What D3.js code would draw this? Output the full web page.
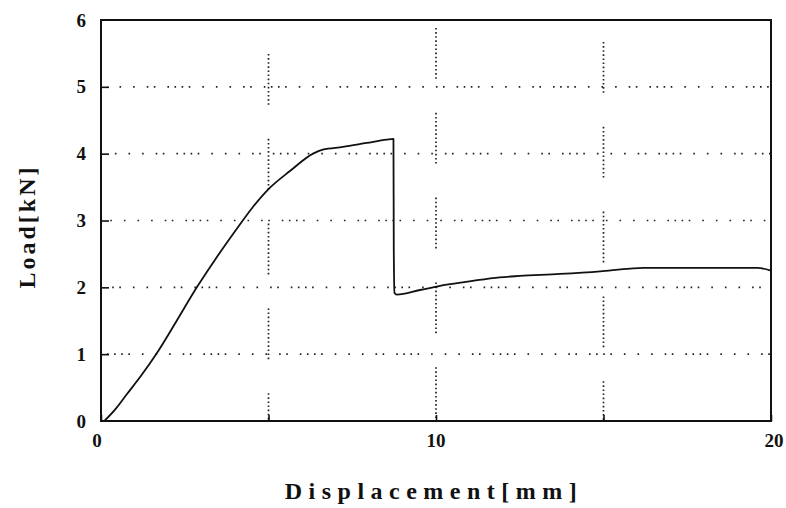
<!DOCTYPE html>
<html>
<head>
<meta charset="utf-8">
<script src="https://cdn.jsdelivr.net/npm/d3@7/dist/d3.min.js"></script>
<style>
  html, body { margin: 0; padding: 0; background: #fff; }
  svg { display: block; }
  text { font-family: "Liberation Serif", "Times New Roman", serif; font-weight: bold; fill: #111; }
</style>
</head>
<body>
<svg id="chart" width="786" height="508"></svg>
<script>
// Load–displacement curve of the test specimen
const displacement = [0.1, 0.45, 0.77, 1.2, 1.66, 2.26, 2.86, 3.4, 4.06, 4.5, 5.0, 5.64, 6.33, 6.62, 7.22, 7.93, 8.53, 8.73, 8.74, 8.76, 8.83, 9.52, 10.32, 11.0, 11.9, 12.5, 13.7, 14.9, 15.8, 16.2, 17.5, 19.6, 20.0];
const load         = [0.0, 0.19, 0.4, 0.68, 1.01, 1.5, 2.0, 2.41, 2.88, 3.18, 3.47, 3.74, 4.0, 4.06, 4.1, 4.16, 4.21, 4.22, 2.54, 1.92, 1.89, 1.96, 2.04, 2.09, 2.15, 2.17, 2.2, 2.24, 2.28, 2.29, 2.29, 2.29, 2.25];

const xTicks = [0, 10, 20];
const xGrid = [5, 10, 15];
const yTicks = [0, 1, 2, 3, 4, 5, 6];
const yGrid = [1, 2, 3, 4, 5];

const margin = { left: 101, right: 15, top: 20, bottom: 87 };
const W = 786, H = 508;
const svg = d3.select("#chart");

const x = d3.scaleLinear().domain([0, 20]).range([margin.left, W - margin.right]);
const y = d3.scaleLinear().domain([0, 6]).range([H - margin.bottom, margin.top]);

const x0 = x(0), x1 = x(20), y0 = y(0), y1 = y(6);

// Horizontal dotted grid lines (irregular dot spacing)
const hDash = "1.6,5.5,1.6,5.5,1.6,5.5,1.6,12,1.6,12,1.6,12,1.6,12,1.6,5.5,1.6,12";
svg.append("g")
  .selectAll("line")
  .data(yGrid)
  .join("line")
  .attr("x1", x0 + 6).attr("x2", x1)
  .attr("y1", d => y(d)).attr("y2", d => y(d))
  .attr("stroke", "#222")
  .attr("stroke-width", 1.7)
  .attr("stroke-dasharray", hDash)
  .attr("stroke-dashoffset", (d, i) => i * 9);

// Vertical grid lines drawn as broken runs of dots
const vRun = d3.range(12).map(() => "1.6,2.5").join(",") + ",1.6,34";
svg.append("g")
  .selectAll("line")
  .data(xGrid)
  .join("line")
  .attr("x1", d => x(d)).attr("x2", d => x(d))
  .attr("y1", y1).attr("y2", y0)
  .attr("stroke", "#222")
  .attr("stroke-width", 1.7)
  .attr("stroke-dasharray", vRun)
  .attr("stroke-dashoffset", (d, i) => [-34, -8, -22][i]);

// Axis ticks (inside the frame) via d3 axes
svg.append("g")
  .attr("transform", `translate(0,${y0})`)
  .call(d3.axisBottom(x).tickValues(xGrid.concat([0, 20])).tickSize(-6).tickFormat(""))
  .call(g => g.select(".domain").remove())
  .call(g => g.selectAll("line").attr("stroke", "#111").attr("stroke-width", 1.6));

svg.append("g")
  .attr("transform", `translate(${x0},0)`)
  .call(d3.axisLeft(y).tickValues(yGrid).tickSize(-8).tickFormat(""))
  .call(g => g.select(".domain").remove())
  .call(g => g.selectAll("line").attr("stroke", "#111").attr("stroke-width", 1.6));

// Tick labels
svg.append("g")
  .selectAll("text")
  .data(yTicks)
  .join("text")
  .attr("x", x0 - 15)
  .attr("y", d => y(d))
  .attr("dy", "0.35em")
  .attr("text-anchor", "end")
  .attr("font-size", 19)
  .text(d => d);

svg.append("g")
  .selectAll("text")
  .data(xTicks)
  .join("text")
  .attr("x", d => x(d) - (d === 0 ? 4 : d === 20 ? -3 : 0))
  .attr("y", y0 + 26)
  .attr("text-anchor", "middle")
  .attr("font-size", 19)
  .text(d => d);

// Frame
svg.append("rect")
  .attr("x", x0).attr("y", y1)
  .attr("width", x1 - x0).attr("height", y0 - y1)
  .attr("fill", "none")
  .attr("stroke", "#111")
  .attr("stroke-width", 2);

// Curve
const line = d3.line()
  .x((d, i) => x(displacement[i]))
  .y(d => y(d))
  .curve(d3.curveMonotoneX);
svg.append("path")
  .datum(load)
  .attr("d", line)
  .attr("fill", "none")
  .attr("stroke", "#111")
  .attr("stroke-width", 1.8)
  .attr("stroke-linejoin", "round");

// Axis titles
svg.append("text")
  .attr("x", (x0 + x1) / 2 - 2)
  .attr("y", 499)
  .attr("text-anchor", "middle")
  .attr("font-size", 24)
  .attr("letter-spacing", 6.5)
  .text("Displacement[mm]");

svg.append("text")
  .attr("transform", `translate(35,${(y0 + y1) / 2 + 6}) rotate(-90)`)
  .attr("text-anchor", "middle")
  .attr("font-size", 24)
  .attr("letter-spacing", 3)
  .text("Load[kN]");
</script>
</body>
</html>
